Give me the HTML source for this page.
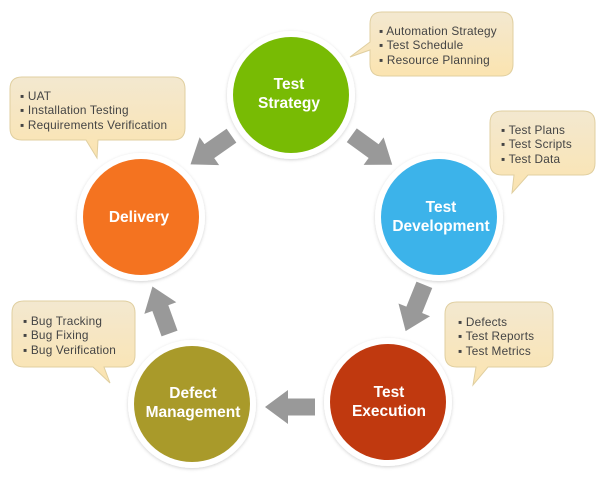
<!DOCTYPE html>
<html><head><meta charset="utf-8"><style>
html,body{margin:0;padding:0;background:#fff;}
svg{display:block;}
.b{font-family:"Liberation Sans",sans-serif;font-size:11.8px;letter-spacing:0.2px;fill:#444;}
.c{font-family:"Liberation Sans",sans-serif;font-size:15.5px;font-weight:bold;fill:#fff;text-anchor:middle;}
</style></head><body>
<svg width="610" height="478" viewBox="0 0 610 478" xmlns="http://www.w3.org/2000/svg">
<defs>
<linearGradient id="g" x1="0" y1="0" x2="0" y2="1"><stop offset="0" stop-color="#f3e8d0"/><stop offset="1" stop-color="#fbe4b0"/></linearGradient>
<filter id="s" x="-20%" y="-20%" width="140%" height="140%"><feDropShadow dx="0" dy="1" stdDeviation="1.5" flood-color="#000" flood-opacity="0.18"/></filter>
<polygon id="ar" points="-25,-8.5 2,-8.5 2,-17 25,0 2,17 2,8.5 -25,8.5" fill="#999"/>
</defs>

<g stroke="#e0cfa0" stroke-width="1" fill="url(#g)">
<path d="M382,12 H501 Q513,12 513,24 V64 Q513,76 501,76 H382 Q370,76 370,64 V50 L350,57 L370,42 V24 Q370,12 382,12 Z"/>
<path d="M22,77 H173 Q185,77 185,89 V128 Q185,140 173,140 H98 L97,158 L86,140 H22 Q10,140 10,128 V89 Q10,77 22,77 Z"/>
<path d="M502,111 H583 Q595,111 595,123 V163 Q595,175 583,175 H528 L512,193 L514,175 H502 Q490,175 490,163 V123 Q490,111 502,111 Z"/>
<path d="M457,302 H541 Q553,302 553,314 V355 Q553,367 541,367 H488 L473,385 L476,367 H457 Q445,367 445,355 V314 Q445,302 457,302 Z"/>
<path d="M24,301 H123 Q135,301 135,313 V355 Q135,367 123,367 H104 L110,383 L93,367 H24 Q12,367 12,355 V313 Q12,301 24,301 Z"/>
</g>
<g class="b">
<text x="379" y="35">▪ Automation Strategy</text>
<text x="379" y="49">▪ Test Schedule</text>
<text x="379" y="64">▪ Resource Planning</text>
<text x="20" y="100">▪ UAT</text>
<text x="20" y="114">▪ Installation Testing</text>
<text x="20" y="129">▪ Requirements Verification</text>
<text x="501" y="134">▪ Test Plans</text>
<text x="501" y="148">▪ Test Scripts</text>
<text x="501" y="163">▪ Test Data</text>
<text x="458" y="326">▪ Defects</text>
<text x="458" y="340">▪ Test Reports</text>
<text x="458" y="355">▪ Test Metrics</text>
<text x="23" y="325">▪ Bug Tracking</text>
<text x="23" y="339">▪ Bug Fixing</text>
<text x="23" y="354">▪ Bug Verification</text>
</g>

<use href="#ar" transform="translate(372,150) rotate(36)"/>
<use href="#ar" transform="translate(415,308) rotate(112)"/>
<use href="#ar" transform="translate(290,407) rotate(180)"/>
<use href="#ar" transform="translate(161,310) rotate(-110)"/>
<use href="#ar" transform="translate(211,150) rotate(145)"/>

<g filter="url(#s)" fill="#fff">
<circle cx="291" cy="95" r="64"/>
<circle cx="439" cy="217" r="64"/>
<circle cx="388" cy="402" r="64"/>
<circle cx="192" cy="404" r="64"/>
<circle cx="141" cy="217" r="64"/>
</g>
<circle cx="291" cy="95" r="58" fill="#78bb04"/>
<circle cx="439" cy="217" r="58" fill="#3cb3ea"/>
<circle cx="388" cy="402" r="58" fill="#c0390f"/>
<circle cx="192" cy="404" r="58" fill="#a99a2a"/>
<circle cx="141" cy="217" r="58" fill="#f47320"/>

<text class="c" x="289" y="89">Test</text>
<text class="c" x="289" y="108">Strategy</text>
<text class="c" x="441" y="212">Test</text>
<text class="c" x="441" y="231">Development</text>
<text class="c" x="389" y="397">Test</text>
<text class="c" x="389" y="416">Execution</text>
<text class="c" x="193" y="398">Defect</text>
<text class="c" x="193" y="417">Management</text>
<text class="c" x="139" y="222">Delivery</text>
</svg>
</body></html>
